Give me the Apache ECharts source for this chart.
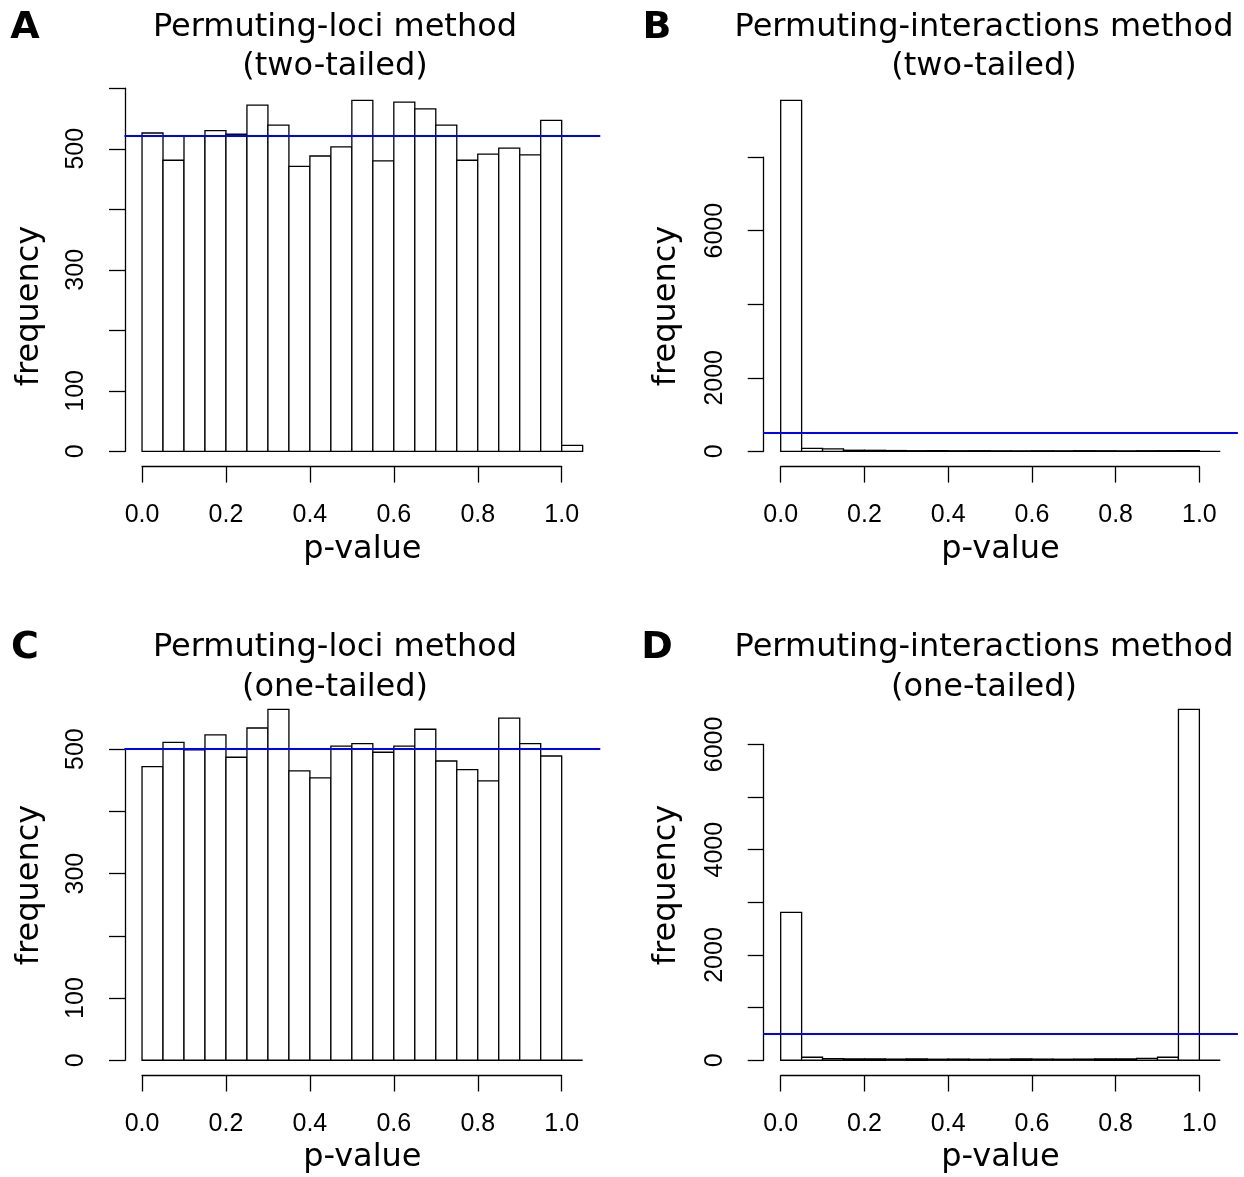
<!DOCTYPE html>
<html>
<head>
<meta charset="utf-8">
<script src="https://cdn.jsdelivr.net/npm/echarts@6/dist/echarts.min.js"></script>
<style>html,body{margin:0;padding:0;background:#fff}#c{width:1244px;height:1177px}</style>
</head>
<body>
<div id="c"></div>
<script>
// ---- data ----
const breaks = [0, 0.05, 0.1, 0.15, 0.2, 0.25, 0.3, 0.35, 0.4, 0.45, 0.5, 0.55, 0.6, 0.65, 0.7, 0.75, 0.8, 0.85, 0.9, 0.95, 1.0, 1.05];
const countsA = [526, 481, 521, 530, 524, 572, 539, 471, 488, 503, 580, 480, 577, 566, 539, 481, 491, 501, 490, 547, 10];
const countsB = [9543, 82, 70, 30, 28, 22, 18, 20, 16, 18, 15, 14, 16, 15, 18, 16, 14, 17, 18, 20, 0];
const countsC = [472, 511, 499, 523, 487, 534, 564, 465, 454, 505, 509, 495, 505, 532, 481, 467, 449, 550, 509, 489, 0];
const countsD = [2808, 57, 30, 25, 28, 22, 25, 20, 22, 18, 20, 25, 22, 20, 22, 25, 28, 35, 57, 6667, 0];
const expectedA = 521, expectedB = 500, expectedC = 500, expectedD = 500;
const xTicks = [0.0, 0.2, 0.4, 0.6, 0.8, 1.0];
const yTicksA = [0, 100, 200, 300, 400, 500, 600], yLabelsA = [0, 100, 300, 500];
const yTicksB = [0, 2000, 4000, 6000, 8000], yLabelsB = [0, 2000, 6000];
const yTicksC = [0, 100, 200, 300, 400, 500], yLabelsC = [0, 100, 300, 500];
const yTicksD = [0, 1000, 2000, 3000, 4000, 5000, 6000], yLabelsD = [0, 2000, 4000, 6000];
const letters = ['A', 'B', 'C', 'D'];
const titles1 = ['Permuting-loci method', 'Permuting-interactions method', 'Permuting-loci method', 'Permuting-interactions method'];
const titles2 = ['(two-tailed)', '(two-tailed)', '(one-tailed)', '(one-tailed)'];
const xName = 'p-value', yName = 'frequency';

// ---- layout ----
const colsX = [[124.4, 600.3], [763.1, 1237.9]];
const rowsY = [[86.3, 465.4], [695.3, 1074.3]];
const titleX = [335, 984];
const letterX = [25, 657];
const titleY = [[28, 67], [648, 688]];
const yNameX = [30, 667];
const yNameY = [306, 885];
const xNameY = [550, 1158];
const tickFont = 'Liberation Sans';
const textFont = 'DejaVu Sans';

const panels = [
  {counts: countsA, h: expectedA, yTicks: yTicksA, yLabels: yLabelsA, col: 0, row: 0},
  {counts: countsB, h: expectedB, yTicks: yTicksB, yLabels: yLabelsB, col: 1, row: 0},
  {counts: countsC, h: expectedC, yTicks: yTicksC, yLabels: yLabelsC, col: 0, row: 1},
  {counts: countsD, h: expectedD, yTicks: yTicksD, yLabels: yLabelsD, col: 1, row: 1}
];

const grid = [], xAxis = [], yAxis = [], series = [], graphic = [];
const lineStyle = {color: '#000', width: 1.3};

function renderItem(params, api) {
  const p0 = api.coord([api.value(0), api.value(2)]);
  const p1 = api.coord([api.value(1), 0]);
  return {
    type: 'rect',
    shape: {x: p0[0], y: p0[1], width: p1[0] - p0[0], height: p1[1] - p0[1]},
    style: {fill: '#fff', stroke: '#000', lineWidth: 1.3}
  };
}

function txt(x, y, text, font, rotation) {
  const el = {type: 'text', x, y, style: {text, font, fill: '#000',
    align: 'center', verticalAlign: 'middle', textAlign: 'center', textVerticalAlign: 'middle'}};
  if (rotation) el.rotation = rotation;
  return el;
}

panels.forEach((p, i) => {
  const [L, R] = colsX[p.col];
  const [T, B] = rowsY[p.row];
  const W = R - L, H = B - T;
  const xLo = breaks[0], xHi = breaks[breaks.length - 1];
  const xmin = xLo - 0.04 * (xHi - xLo), xmax = xHi + 0.04 * (xHi - xLo);
  const cmax = Math.max(...p.counts);
  const ymin = -0.04 * cmax, ymax = cmax * 1.04;
  const g = i * 3;

  // data grid (plot region)
  grid.push({left: L, top: T, width: W, height: H});
  xAxis.push({type: 'value', gridIndex: g, min: xmin, max: xmax, show: false});
  yAxis.push({type: 'value', gridIndex: g, min: ymin, max: ymax, show: false});

  // x display axis
  const x0 = L + (xTicks[0] - xmin) / (xmax - xmin) * W;
  const x1 = L + (xTicks[xTicks.length - 1] - xmin) / (xmax - xmin) * W;
  grid.push({left: x0, top: T, width: x1 - x0, height: H + 1.2});
  xAxis.push({
    type: 'value', gridIndex: g + 1, min: xTicks[0], max: xTicks[xTicks.length - 1], interval: 0.2,
    axisLine: {show: true, lineStyle}, axisTick: {show: true, length: 16, inside: false, lineStyle},
    splitLine: {show: false},
    axisLabel: {show: true, margin: 36, fontFamily: tickFont, fontSize: 25, color: '#000',
      formatter: v => v.toFixed(1), showMinLabel: true, showMaxLabel: true, hideOverlap: false}
  });
  yAxis.push({type: 'value', gridIndex: g + 1, min: 0, max: 1, show: false});

  // y display axis
  const yt0 = p.yTicks[0], yt1 = p.yTicks[p.yTicks.length - 1];
  const ty = T + (ymax - yt1) / (ymax - ymin) * H;
  const by = T + (ymax - yt0) / (ymax - ymin) * H;
  grid.push({left: L + 0.6, top: ty, width: W, height: by - ty});
  xAxis.push({type: 'value', gridIndex: g + 2, min: 0, max: 1, show: false});
  yAxis.push({
    type: 'value', gridIndex: g + 2, min: yt0, max: yt1, interval: p.yTicks[1] - p.yTicks[0],
    axisLine: {show: true, lineStyle}, axisTick: {show: true, length: 16, inside: false, lineStyle},
    splitLine: {show: false},
    axisLabel: {show: true, rotate: 90, margin: 36, fontFamily: tickFont, fontSize: 25, color: '#000',
      formatter: v => (p.yLabels.indexOf(v) >= 0 ? String(v) : ''), showMinLabel: true, showMaxLabel: true, hideOverlap: false}
  });

  const data = p.counts.map((c, k) => [breaks[k], breaks[k + 1], c]);
  series.push({
    type: 'custom', xAxisIndex: g, yAxisIndex: g, renderItem, data, silent: true, clip: false,
    encode: {x: [0, 1], y: 2},
    markLine: {silent: true, symbol: ['none', 'none'], label: {show: false}, animation: false,
      lineStyle: {color: '#0000ff', width: 1.8, type: 'solid'}, data: [{yAxis: p.h}]}
  });

  // texts
  const cx = titleX[p.col];
  graphic.push(txt(letterX[p.col], titleY[p.row][0], letters[i], 'bold 38px "' + textFont + '"'));
  graphic.push(txt(cx, titleY[p.row][0], titles1[i], '32px "' + textFont + '"'));
  graphic.push(txt(cx, titleY[p.row][1], titles2[i], '32px "' + textFont + '"'));
  graphic.push(txt((L + R) / 2, xNameY[p.row], xName, '32px "' + textFont + '"'));
  graphic.push(txt(yNameX[p.col], yNameY[p.row], yName, '32px "' + textFont + '"', Math.PI / 2));
});

const chart = echarts.init(document.getElementById('c'), null, {renderer: 'canvas'});
chart.setOption({
  animation: false,
  backgroundColor: '#fff',
  grid, xAxis, yAxis, series, graphic
});
</script>
</body>
</html>
